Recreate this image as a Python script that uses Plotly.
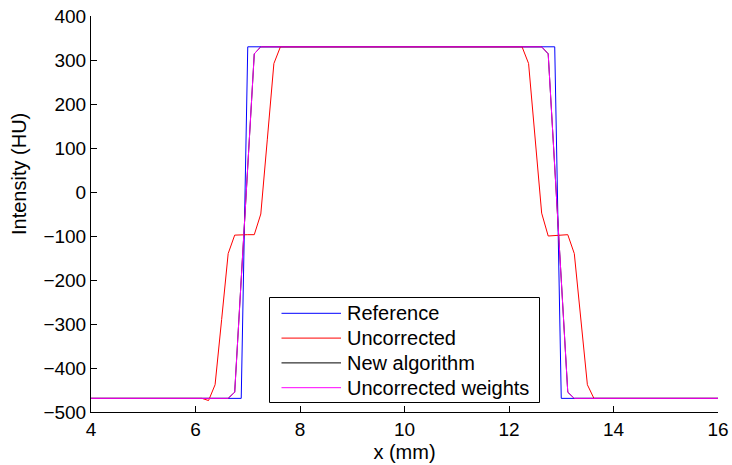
import plotly.graph_objects as go

# Profile vertices (x in mm, intensity in HU); lines are piecewise linear between them
ref_x = [4, 6.875, 7.0, 12.875, 13.0, 16]
ref_y = [-469, -469, 330, 330, -469, -469]

unc_x = [4, 6.125, 6.25, 6.375, 6.5, 6.625, 6.75, 6.875, 7.0, 7.125, 7.25, 7.375, 7.5, 7.625,
         12.25, 12.375, 12.5, 12.625, 12.75, 12.875, 13.0, 13.125, 13.25, 13.375, 13.5, 13.625, 16]
unc_y = [-469, -469, -474, -438, -290, -140, -98, -97, -97, -97, -50, 120, 292, 330,
         330, 292, 120, -48, -100, -99, -98, -97, -140, -290, -438, -469, -469]

new_x = [4, 6.625, 6.75, 6.875, 7.0, 7.125, 7.25, 12.625, 12.75, 12.875, 13.0, 13.125, 13.25, 16]
new_y = [-469, -469, -455, -200, 57, 314, 330, 330, 314, 57, -200, -455, -469, -469]

uw_x = [4, 6.625, 6.75, 6.875, 7.0, 7.125, 7.25, 12.625, 12.75, 12.875, 13.0, 13.125, 13.25, 16]
uw_y = [-469, -469, -455, -200, 57, 314, 330, 330, 314, 57, -200, -455, -469, -469]

series_names = ["Reference", "Uncorrected", "New algorithm", "Uncorrected weights"]
series_colors = ["#0000ff", "#ff0000", "#000000", "#ff00ff"]

x_ticks = [4, 6, 8, 10, 12, 14, 16]
y_ticks = [-500, -400, -300, -200, -100, 0, 100, 200, 300, 400]

FONT = "Liberation Sans, Arial, Helvetica, sans-serif"
W, H = 732, 465
ML, MR, MT, MB = 91, 14, 16, 53
PW, PH = W - ML - MR, H - MT - MB


def px(xpix):
    """Horizontal pixel position -> paper fraction."""
    return (xpix - ML) / PW


def py(ypix):
    """Vertical pixel position (from top) -> paper fraction."""
    return (H - MB - ypix) / PH


fig = go.Figure()
for name, xs, ys, col in zip(series_names, [ref_x, unc_x, new_x, uw_x],
                             [ref_y, unc_y, new_y, uw_y], series_colors):
    fig.add_trace(go.Scatter(x=xs, y=ys, mode="lines", name=name, showlegend=False,
                             line=dict(color=col, width=1)))

axis_common = dict(showline=True, linecolor="black", linewidth=1, mirror=False,
                   ticks="inside", ticklen=6, tickcolor="black", tickwidth=1,
                   showgrid=False, zeroline=False, automargin=False,
                   tickfont=dict(family=FONT, size=19, color="black"))

# Boxed legend in the lower middle of the axes
shapes = [dict(type="rect", xref="paper", yref="paper",
               x0=px(269.5), x1=px(539.5), y0=py(402.5), y1=py(297.5),
               line=dict(color="black", width=1), fillcolor="white", layer="above")]
annotations = []
row0, row_step = 313.3, 24.8
for i, (name, col) in enumerate(zip(series_names, series_colors)):
    yy = row0 + i * row_step
    shapes.append(dict(type="line", xref="paper", yref="paper",
                       x0=px(281.5), x1=px(341), y0=py(yy), y1=py(yy),
                       line=dict(color=col, width=1), layer="above"))
    annotations.append(dict(text=name, xref="paper", yref="paper",
                            x=px(345), y=py(yy), xanchor="left", yanchor="middle",
                            showarrow=False, font=dict(family=FONT, size=20, color="black")))

# Vertical axis label
annotations.append(dict(text="Intensity (HU)", xref="paper", yref="paper",
                        x=px(19), y=py(174), xanchor="center", yanchor="middle",
                        textangle=-90, showarrow=False,
                        font=dict(family=FONT, size=20, color="black")))

fig.update_layout(
    width=W, height=H,
    margin=dict(l=ML, r=MR, t=MT, b=MB),
    paper_bgcolor="white", plot_bgcolor="white",
    font=dict(family=FONT, size=19, color="black"),
    xaxis=dict(range=[4, 16], tickvals=x_ticks,
               title=dict(text="x (mm)", font=dict(family=FONT, size=20), standoff=6),
               **axis_common),
    yaxis=dict(range=[-500, 400], tickvals=y_ticks, **axis_common),
    shapes=shapes,
    annotations=annotations,
    showlegend=False,
)

fig.write_html("out.html")
